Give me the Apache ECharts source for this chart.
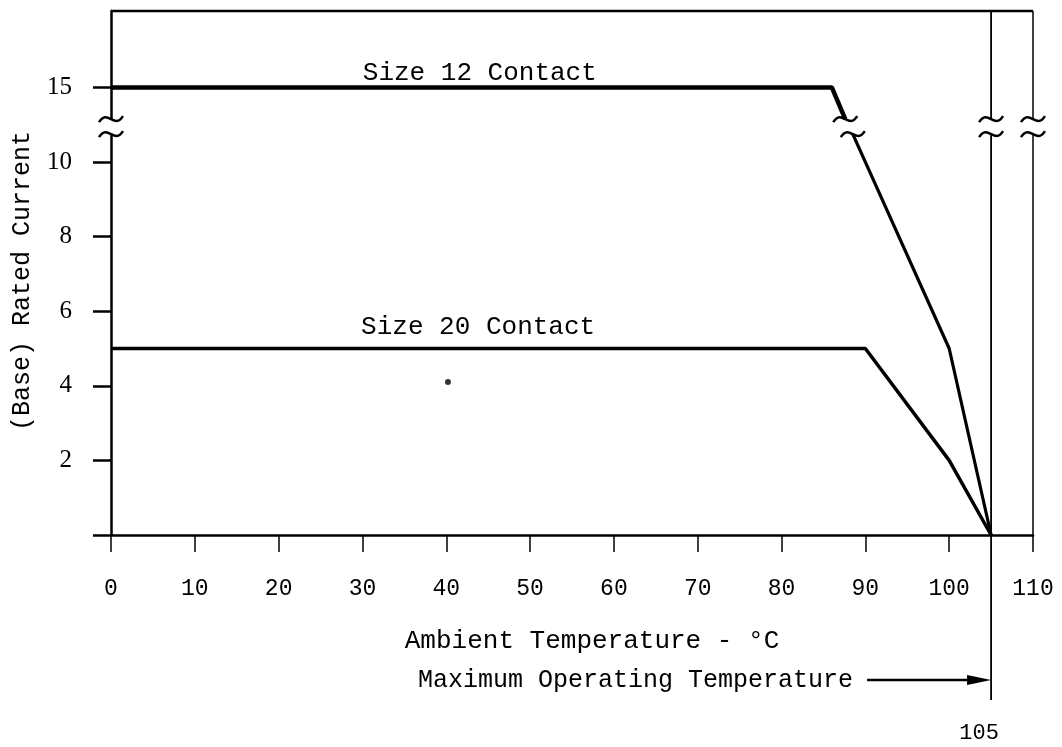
<!DOCTYPE html>
<html><head><meta charset="utf-8">
<script src="https://cdn.jsdelivr.net/npm/echarts@6/dist/echarts.min.js"></script>
<style>html,body{margin:0;padding:0;background:#fff}#c{width:1062px;height:747px}</style>
</head><body><div id="c"></div>
<script>
// ---- data ----
const xTickLabels = ['0','10','20','30','40','50','60','70','80','90','100','110'];
const yTickValues = [0, 2, 4, 6, 8, 10, 12];        // 12 is where "15" sits above the axis break
const yTickLabels = ['', '2', '4', '6', '8', '10', '15'];
const yTop = 14.05;                                   // top of the frame (axis units)
const size12Upper = [[0, 12], [86, 12], [87.6, 11.15]];
const size12Lower = [[88.5, 10.75], [100, 5], [105, 0]];
const size20 = [[0, 5], [90, 5], [100, 2], [105, 0]];
const breakHigh = 11.15, breakLow = 10.75;
const maxOpTemp = 105;
const rightEdge = 110;
const specks = [[40.2, 4.1]];
const labels = {
  size12: {x: 44, y: 12, text: 'Size 12 Contact'},
  size20: {x: 43.8, y: 5, text: 'Size 20 Contact'}
};

const chart = echarts.init(document.getElementById('c'), null, {renderer: 'canvas'});
const mono = "'Liberation Mono', 'DejaVu Sans Mono', monospace";

function renderFrame(params, api) {
  const c = (x, y) => api.coord([x, y]);
  const ch = [];
  const seg = (p, q, w) => ch.push({type: 'line', shape: {x1: p[0], y1: p[1], x2: q[0], y2: q[1]},
    style: {stroke: '#000', lineWidth: w, lineCap: 'butt'}});
  const tilde = (cx, cy) => ch.push({type: 'bezierCurve',
    shape: {x1: cx - 12, y1: cy + 3, x2: cx + 12, y2: cy - 3, cpx1: cx - 3, cpy1: cy - 11, cpx2: cx + 3, cpy2: cy + 11},
    style: {stroke: '#000', lineWidth: 2.5, fill: 'none'}});
  // top line of frame
  seg(c(0, yTop), c(rightEdge, yTop), 2.5);
  // right edge (110) with break
  seg(c(rightEdge, yTop), c(rightEdge, breakHigh), 1.5);
  seg(c(rightEdge, breakLow), c(rightEdge, 0), 1.5);
  // max operating temperature line (105) with break, extended below the axis
  const b105 = c(maxOpTemp, 0);
  seg(c(maxOpTemp, yTop), c(maxOpTemp, breakHigh), 1.8);
  seg(c(maxOpTemp, breakLow), [b105[0], b105[1] + 165], 1.8);
  // gap in y axis
  const gh = c(0, breakHigh), gl = c(0, breakLow);
  ch.push({type: 'rect', shape: {x: gh[0] - 5, y: gh[1], width: 10, height: gl[1] - gh[1]}, style: {fill: '#fff'}});
  // break marks
  [[0, breakHigh], [0, breakLow], [maxOpTemp, breakHigh], [maxOpTemp, breakLow],
   [rightEdge, breakHigh], [rightEdge, breakLow]].forEach(p => { const q = c(p[0], p[1]); tilde(q[0], q[1]); });
  const cu = c(size12Upper[2][0], size12Upper[2][1]), cl = c(size12Lower[0][0], size12Lower[0][1]);
  tilde(cu[0], cu[1]); tilde(cl[0], cl[1]);
  // arrow
  const ay = b105[1] + 145;
  seg([b105[0] - 124, ay], [b105[0] - 14, ay], 2.5);
  ch.push({type: 'polygon', shape: {points: [[b105[0] - 24, ay - 5], [b105[0], ay], [b105[0] - 24, ay + 5]]}, style: {fill: '#000'}});
  ch.push({type: 'text', style: {text: 'Maximum Operating Temperature', x: b105[0] - 138, y: ay,
    align: 'right', verticalAlign: 'middle', font: "25px " + mono, fill: '#000'}});
  ch.push({type: 'text', style: {text: '105', x: b105[0] - 12, y: b105[1] + 198,
    align: 'center', verticalAlign: 'middle', font: "22px " + mono, fill: '#000'}});
  return {type: 'group', children: ch};
}

const lineBase = {type: 'line', symbol: 'none', silent: true, animation: false, z: 3};
chart.setOption({
  animation: false,
  backgroundColor: '#fff',
  grid: {left: 111, right: 29, top: 11, bottom: 212, show: false, containLabel: false, outerBoundsMode: 'none'},
  xAxis: {
    type: 'value', min: 0, max: 110, interval: 10,
    axisLine: {lineStyle: {color: '#000', width: 2.5}},
    axisTick: {length: 17, lineStyle: {color: '#000', width: 1.5}},
    axisLabel: {margin: 42, color: '#000', fontFamily: mono, fontSize: 23,
      formatter: (v) => xTickLabels[Math.round(v / 10)]},
    splitLine: {show: false},
    name: 'Ambient Temperature - °C', nameLocation: 'middle', nameGap: 93,
    nameTextStyle: {color: '#000', fontFamily: mono, fontSize: 26, padding: [0, 0, 0, 40]}
  },
  yAxis: {
    type: 'value', min: 0, max: yTop,
    axisLine: {lineStyle: {color: '#000', width: 2.5}},
    axisTick: {customValues: yTickValues, length: 18, lineStyle: {color: '#000', width: 2.5}},
    axisLabel: {customValues: yTickValues.slice(1), margin: 39, color: '#000',
      fontFamily: "'Liberation Serif', serif", fontSize: 25,
      formatter: (v) => yTickLabels[yTickValues.indexOf(v)]},
    splitLine: {show: false},
    name: '(Base) Rated Current', nameLocation: 'middle', nameGap: 76, nameRotate: 90,
    nameTextStyle: {color: '#000', fontFamily: mono, fontSize: 25, padding: [0, 16, 0, 0]}
  },
  series: [
    Object.assign({}, lineBase, {name: 'Size 12 Contact', data: size12Upper, lineStyle: {color: '#000', width: 4.5},
      markPoint: {symbol: 'circle', symbolSize: 0, silent: true, data: [{coord: [labels.size12.x, labels.size12.y],
        label: {show: true, formatter: labels.size12.text, offset: [0, -14], color: '#000', fontFamily: mono, fontSize: 26}}]}}),
    Object.assign({}, lineBase, {name: 'Size 12 Contact (below break)', data: size12Lower, lineStyle: {color: '#000', width: 3.2}}),
    Object.assign({}, lineBase, {name: 'Size 20 Contact', data: size20, lineStyle: {color: '#000', width: 3.5},
      markPoint: {symbol: 'circle', symbolSize: 0, silent: true, data: [{coord: [labels.size20.x, labels.size20.y],
        label: {show: true, formatter: labels.size20.text, offset: [0, -21], color: '#000', fontFamily: mono, fontSize: 26}}]}}),
    {type: 'scatter', data: specks, symbolSize: 6, itemStyle: {color: '#000'}, silent: true, z: 3},
    {type: 'custom', coordinateSystem: 'cartesian2d', data: [[0, 0]], renderItem: renderFrame, clip: false, silent: true, z: 10}
  ]
});
</script>
</body></html>
